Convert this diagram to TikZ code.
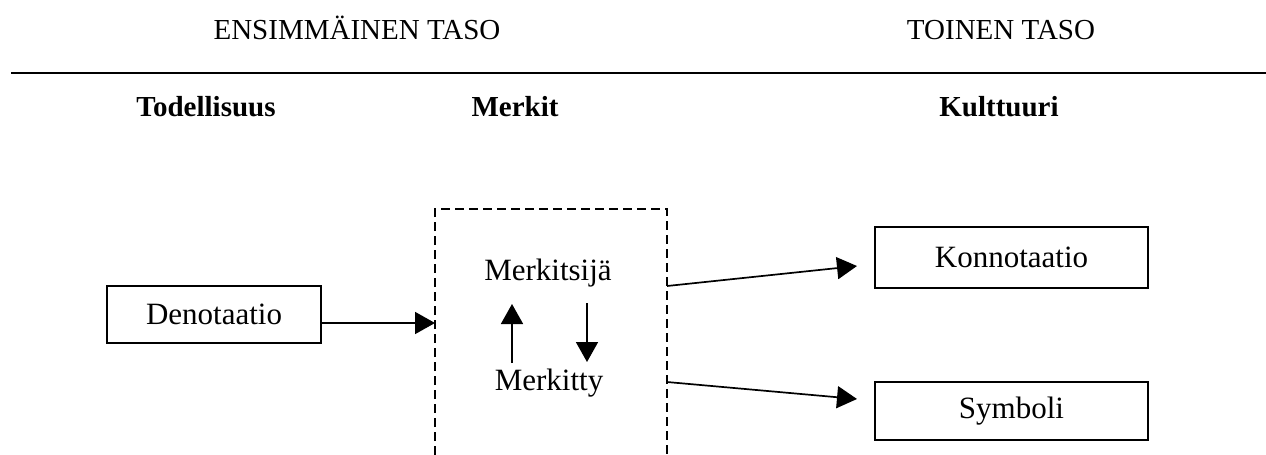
\documentclass[tikz,border=0pt]{standalone}
\usepackage{fontspec}
\setmainfont{Liberation Serif}
\usetikzlibrary{arrows.meta}
\tikzset{
  txt/.style={font=\fontsize{29}{34}\selectfont, inner sep=0pt, anchor=base},
  body/.style={font=\fontsize{31}{36}\selectfont, inner sep=0pt, anchor=base},
  hdr/.style={txt, font=\fontsize{29}{34}\selectfont\bfseries},
  boxn/.style={draw, line width=2pt, minimum width=#1, font=\fontsize{31}{36}\selectfont, inner sep=0pt},
  arr/.style={line width=1.7pt, -{Triangle[length=20pt, width=22pt]}},
  dashbox/.style={line width=2pt, dash pattern=on 9pt off 5pt},
  rule/.style={line width=2pt}
}
\begin{document}
\begin{tikzpicture}[x=1pt, y=-1pt]
\useasboundingbox (0,0) rectangle (1266,455);
% headers
\node[txt] (lvl1) at (357,39) {ENSIMMÄINEN TASO};
\node[txt] (lvl2) at (1001,39) {TOINEN TASO};
\coordinate (rl) at (11,73);
\coordinate (rr) at (1266,73);
\draw[rule] (rl) -- (rr);
\node[hdr] (todel) at (206,116) {Todellisuus};
\node[hdr] (merkit) at (515,116) {Merkit};
\node[hdr] (kult) at (999,116) {Kulttuuri};
% dashed box
\coordinate (dbl) at (435,455);
\coordinate (dtl) at (435,209);
\coordinate (dtr) at (667,209);
\coordinate (dbr) at (667,455);
\draw[dashbox] (dbl) -- (dtl) -- (dtr) -- (dbr);
% boxes
\node[boxn=214pt, minimum height=57pt] (den) at (214,314.5) {Denotaatio};
\node[boxn=273pt, minimum height=61pt] (kon) at (1011.5,257.5) {Konnotaatio};
\node[boxn=273pt, minimum height=58pt] (sym) at (1011.5,411) {Symboli};
% inner texts
\node[body] (msija) at (548,280) {Merkitsijä};
\node[body] (mtty) at (549,390) {Merkitty};
% connectors
\coordinate (denout) at (321,323);
\coordinate (dbin) at (435,323);
\draw[arr] (denout) -- (dbin);
\coordinate (o1) at (667,286);
\coordinate (i1) at (857,266);
\draw[arr] (o1) -- (i1);
\coordinate (o2) at (667,382);
\coordinate (i2) at (857,399);
\draw[arr] (o2) -- (i2);
\coordinate (ua) at (512,363);
\coordinate (ub) at (512,304);
\draw[arr] (ua) -- (ub);
\coordinate (da) at (587,303);
\coordinate (db) at (587,362);
\draw[arr] (da) -- (db);
\end{tikzpicture}
\end{document}
